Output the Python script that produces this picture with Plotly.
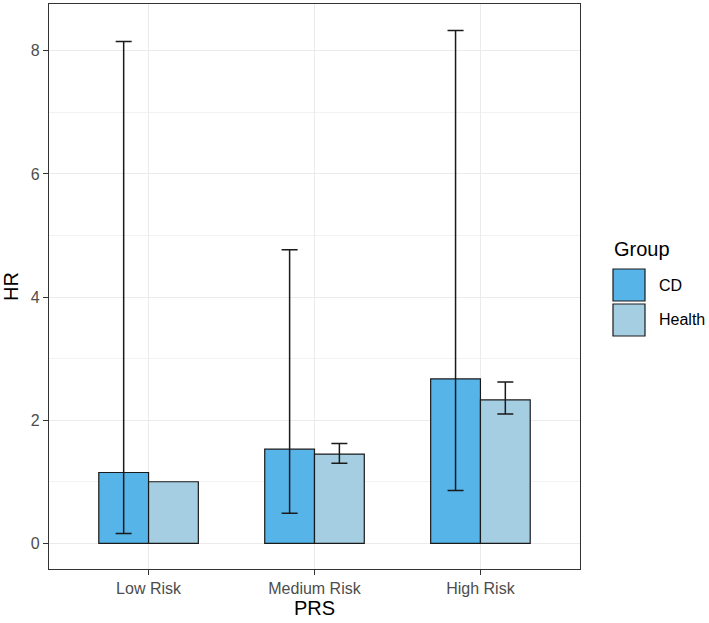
import plotly.graph_objects as go

categories = ["Low Risk", "Medium Risk", "High Risk"]
groups = ["CD", "Health"]
cd_hr = [1.15, 1.53, 2.67]
cd_upper = [8.15, 4.77, 8.33]
cd_lower = [0.16, 0.49, 0.86]
health_hr = [1.00, 1.45, 2.33]
health_upper = [None, 1.62, 2.62]
health_lower = [None, 1.30, 2.10]
colors = {"CD": "#56B4E9", "Health": "#A6CEE3"}
y_ticks = [0, 2, 4, 6, 8]

W, H = 709, 623
L, R, T, B = 49, 580, 4, 569


def px(x):
    return (x - L) / (R - L)


def py(y):
    return (B - y) / (B - T)


fig = go.Figure()
series = [
    ("CD", cd_hr, cd_upper, cd_lower),
    ("Health", health_hr, health_upper, health_lower),
]
for name, hr, up, lo in series:
    fig.add_trace(go.Bar(
        x=categories, y=hr, name=name,
        marker=dict(color=colors[name], line=dict(color="#1a1a1a", width=1.2)),
        error_y=dict(
            type="data", symmetric=False,
            array=["NaN" if u is None else u - h for u, h in zip(up, hr)],
            arrayminus=["NaN" if l is None else h - l for h, l in zip(hr, lo)],
            color="#1a1a1a", thickness=1.5, width=8,
            visible=True,
        ),
        showlegend=False,
    ))

grid = "#EBEBEB"
fig.update_layout(
    width=W, height=H,
    margin=dict(l=L, r=W - R, t=T, b=H - B, pad=0),
    paper_bgcolor="white", plot_bgcolor="white",
    barmode="group", bargap=0.4, bargroupgap=0,
    font=dict(family="Liberation Sans, Arial, sans-serif", color="#4D4D4D"),
    xaxis=dict(
        type="category", range=[-0.6, 2.6],
        showgrid=True, gridcolor=grid, gridwidth=1,
        ticks="outside", ticklen=5, tickcolor="#333333", tickwidth=1,
        tickfont=dict(size=16, color="#4D4D4D"),
        showline=True, linecolor="#333333", linewidth=1.2, mirror=True,
        title=dict(text="PRS", font=dict(size=20, color="black"), standoff=4),
        zeroline=False,
    ),
    yaxis=dict(
        range=[-0.417, 8.76],
        tickvals=y_ticks, ticktext=[str(v) for v in y_ticks],
        showgrid=True, gridcolor=grid, gridwidth=1,
        minor=dict(tickvals=[1, 3, 5, 7], showgrid=True, gridcolor="#F2F2F2", gridwidth=1, ticks=""),
        ticks="outside", ticklen=5, tickcolor="#333333", tickwidth=1,
        tickfont=dict(size=16, color="#4D4D4D"),
        showline=True, linecolor="#333333", linewidth=1.2, mirror=True,
        title=dict(text="HR", font=dict(size=20, color="black"), standoff=8),
        zeroline=False,
    ),
)

# Legend (drawn as shapes/annotations to match large ggplot keys)
key_x0, key_x1 = 613, 645
key_rows = [(269, 301), (304, 336)]
for (y0, y1), g in zip(key_rows, groups):
    fig.add_shape(type="rect", xref="paper", yref="paper",
                  x0=px(key_x0), x1=px(key_x1), y0=py(y1), y1=py(y0),
                  fillcolor=colors[g], line=dict(color="#1a1a1a", width=1.2))
    fig.add_annotation(xref="paper", yref="paper", x=px(657), y=py((y0 + y1) / 2),
                       text=g, showarrow=False, xanchor="left", yanchor="middle",
                       font=dict(size=16, color="black"))
fig.add_annotation(xref="paper", yref="paper", x=px(612), y=py(249),
                   text="Group", showarrow=False, xanchor="left", yanchor="middle",
                   font=dict(size=20, color="black"))

fig.write_html("out.html", config={"displayModeBar": False},
               post_script="document.body.style.margin='0';")
